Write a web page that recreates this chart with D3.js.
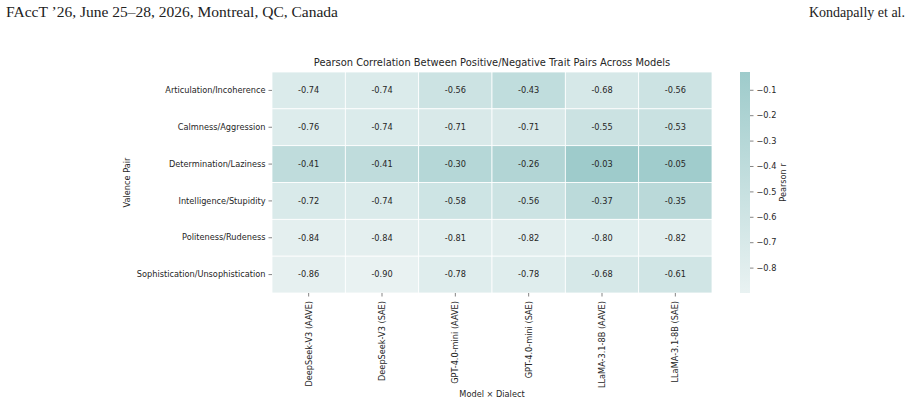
<!DOCTYPE html>
<html>
<head>
<meta charset="utf-8">
<script src="https://cdn.jsdelivr.net/npm/d3@7"></script>
<style>
  body { margin: 0; background: #fff; }
  svg text { font-family: "DejaVu Sans", sans-serif; }
</style>
</head>
<body>
<div id="chart-area"></div>
<script>
// data
var models = ["DeepSeek-V3 (AAVE)", "DeepSeek-V3 (SAE)", "GPT-4.0-mini (AAVE)",
              "GPT-4.0-mini (SAE)", "LLaMA-3.1-8B (AAVE)", "LLaMA-3.1-8B (SAE)"];
var pairs = ["Articulation/Incoherence", "Calmness/Aggression", "Determination/Laziness",
             "Intelligence/Stupidity", "Politeness/Rudeness", "Sophistication/Unsophistication"];
var articulation   = [-0.74, -0.74, -0.56, -0.43, -0.68, -0.56];
var calmness       = [-0.76, -0.74, -0.71, -0.71, -0.55, -0.53];
var determination  = [-0.41, -0.41, -0.30, -0.26, -0.03, -0.05];
var intelligence   = [-0.72, -0.74, -0.58, -0.56, -0.37, -0.35];
var politeness     = [-0.84, -0.84, -0.81, -0.82, -0.80, -0.82];
var sophistication = [-0.86, -0.90, -0.78, -0.78, -0.68, -0.61];
var cbarTicks = [-0.1, -0.2, -0.3, -0.4, -0.5, -0.6, -0.7, -0.8];

var rows = [articulation, calmness, determination, intelligence, politeness, sophistication];
var cells = [];
rows.forEach((r, i) => {
  r.forEach((v, j) => {
    cells.push({pair: pairs[i], model: models[j], value: v});
  });
});

var fs = "8.2px";

var svg = d3.select("#chart-area").append("svg")
            .attr("width", 912)
            .attr("height", 404);

// page header
var serif = "font-family:'Liberation Serif','DejaVu Serif',serif;font-size:14px";
svg.append("text")
   .attr("x", 6).attr("y", 17)
   .attr("style", serif)
   .attr("fill", "#222")
   .attr("textLength", 332)
   .attr("lengthAdjust", "spacingAndGlyphs")
   .text("FAccT ’26, June 25–28, 2026, Montreal, QC, Canada");
svg.append("text")
   .attr("x", 905).attr("y", 17)
   .attr("text-anchor", "end")
   .attr("style", serif)
   .attr("fill", "#222")
   .text("Kondapally et al.");

var mLeft = 272, mRight = 712, mTop = 72, mBottom = 293;

var x = d3.scaleBand().domain(models).range([mLeft, mRight]);
var y = d3.scaleBand().domain(pairs).range([mTop, mBottom]);

var vmin = d3.min(cells, d => d.value), vmax = d3.max(cells, d => d.value);
var color = d3.scaleLinear()
              .domain([vmin, vmax])
              .range(["#e9f2f2", "#9ecbcb"])
              .interpolate(d3.interpolateRgb);

svg.selectAll("rect.cell")
   .data(cells)
   .enter()
   .append("rect")
     .attr("class", "cell")
     .attr("x", d => x(d.model))
     .attr("y", d => y(d.pair))
     .attr("width", x.bandwidth())
     .attr("height", y.bandwidth())
     .attr("fill", d => color(d.value))
     .attr("stroke", "#fff")
     .attr("stroke-width", 0.8);

svg.selectAll("text.val")
   .data(cells)
   .enter()
   .append("text")
     .attr("class", "val")
     .attr("x", d => x(d.model) + x.bandwidth() / 2)
     .attr("y", d => y(d.pair) + y.bandwidth() / 2)
     .attr("dy", "0.35em")
     .attr("text-anchor", "middle")
     .attr("font-size", fs)
     .attr("fill", "#262626")
     .text(d => d.value.toFixed(2));

// axes
var yAxis = svg.append("g")
   .attr("transform", "translate(" + mLeft + ",0)")
   .call(d3.axisLeft(y).tickSize(3.5).tickPadding(3));
yAxis.select(".domain").remove();
yAxis.selectAll("text").attr("font-size", fs).attr("fill", "#262626")
     .attr("font-family", "'DejaVu Sans', sans-serif");
yAxis.selectAll("line").attr("stroke", "#333").attr("stroke-width", 0.6);

var xAxis = svg.append("g")
   .attr("transform", "translate(0," + mBottom + ")")
   .call(d3.axisBottom(x).tickSize(3.5).tickPadding(3));
xAxis.select(".domain").remove();
xAxis.selectAll("text")
     .attr("font-size", fs).attr("fill", "#262626")
     .attr("font-family", "'DejaVu Sans', sans-serif")
     .attr("transform", "rotate(-90)")
     .attr("text-anchor", "end")
     .attr("x", -8)
     .attr("y", 0)
     .attr("dy", "0.35em");
xAxis.selectAll("line").attr("stroke", "#333").attr("stroke-width", 0.6);

// titles
svg.append("text")
   .attr("x", (mLeft + mRight) / 2).attr("y", 66)
   .attr("text-anchor", "middle")
   .attr("font-size", "9.9px").attr("fill", "#262626")
   .text("Pearson Correlation Between Positive/Negative Trait Pairs Across Models");
svg.append("text")
   .attr("x", (mLeft + mRight) / 2).attr("y", 397)
   .attr("text-anchor", "middle")
   .attr("font-size", fs).attr("fill", "#262626")
   .text("Model × Dialect");
svg.append("text")
   .attr("transform", "translate(130," + (mTop + mBottom) / 2 + ") rotate(-90)")
   .attr("text-anchor", "middle")
   .attr("font-size", fs).attr("fill", "#262626")
   .text("Valence Pair");

// colorbar
var cbX = 740, cbW = 10;
var cy = d3.scaleLinear().domain([vmin, vmax]).range([mBottom, mTop]);
var defs = svg.append("defs");
var grad = defs.append("linearGradient")
   .attr("id", "cbar").attr("x1", 0).attr("x2", 0).attr("y1", 1).attr("y2", 0);
grad.append("stop").attr("offset", 0).attr("stop-color", color(vmin));
grad.append("stop").attr("offset", 1).attr("stop-color", color(vmax));
svg.append("rect")
   .attr("x", cbX).attr("y", mTop)
   .attr("width", cbW).attr("height", mBottom - mTop)
   .attr("fill", "url(#cbar)");

var cAxis = svg.append("g")
   .attr("transform", "translate(" + (cbX + cbW) + ",0)")
   .call(d3.axisRight(cy).tickValues(cbarTicks).tickSize(3.5).tickPadding(3)
           .tickFormat(d => "−" + Math.abs(d).toFixed(1)));
cAxis.select(".domain").remove();
cAxis.selectAll("text").attr("font-size", fs).attr("fill", "#262626")
     .attr("font-family", "'DejaVu Sans', sans-serif");
cAxis.selectAll("line").attr("stroke", "#333").attr("stroke-width", 0.6);

svg.append("text")
   .attr("transform", "translate(786," + (mTop + mBottom) / 2 + ") rotate(-90)")
   .attr("text-anchor", "middle")
   .attr("font-size", fs).attr("fill", "#262626")
   .text("Pearson r");
</script>
</body>
</html>
